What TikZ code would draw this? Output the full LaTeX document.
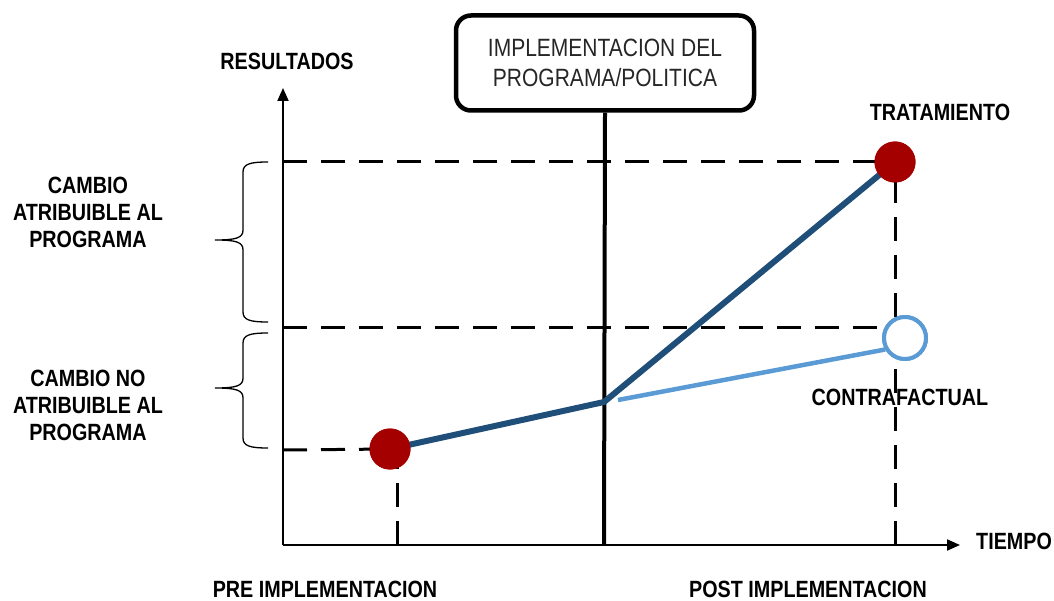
\documentclass[tikz,border=0pt]{standalone}
\usepackage{fontspec}
\setmainfont{Liberation Sans}[FakeStretch=0.84]
\usetikzlibrary{arrows.meta}
\definecolor{darkred}{RGB}{165, 0, 0}
\definecolor{navy}{RGB}{31, 78, 121}
\definecolor{skyline}{RGB}{91, 155, 213}
\tikzset{
    lbl/.style={font=\fontsize{23.5}{27}\selectfont\bfseries, align=center, inner sep=0pt},
    guide/.style={line width=3pt, dash pattern=on 24pt off 14pt},
    redpt/.style={circle, fill=darkred, minimum size=41pt, inner sep=0pt},
    cfpt/.style={circle, draw=skyline, line width=4pt, fill=white, minimum size=42pt, inner sep=0pt},
    llave/.style={line width=1.3pt},
}
% llave: y arriba, y centro, y abajo
\newcommand{\llave}[3]{%
    \draw[llave] (268,#1) .. controls (250,#1) and (243,#1+2) .. (243,#1+10)
        -- (243,#2-10) .. controls (243,#2-2) and (236,#2) .. (215,#2)
        .. controls (236,#2) and (243,#2+2) .. (243,#2+10)
        -- (243,#3-10) .. controls (243,#3-2) and (250,#3) .. (268,#3);}

\begin{document}
\begin{tikzpicture}[x=1pt, y=-1pt]
    \useasboundingbox (0,0) rectangle (1054,601);

    % ejes
    \coordinate (origin) at (283,545);
    \coordinate (ytop) at (283,88);
    \coordinate (xend) at (960,545);
    \draw[line width=2pt, -{Triangle[length=13pt,width=11pt]}] (origin) -- (ytop);
    \draw[line width=2pt, -{Triangle[length=13pt,width=11pt]}] (origin) -- (xend);

    \node[lbl] (res) at (287,61) {RESULTADOS};
    \node[lbl, anchor=west] (tiempo) at (976,541) {TIEMPO};

    % implementacion
    \node[draw, line width=4.5pt, rounded corners=15pt, minimum width=298pt, minimum height=95pt,
          align=center, font=\fontsize{25}{30}\selectfont, text=black!85] (impl) at (605,63)
          {IMPLEMENTACION DEL\\PROGRAMA/POLITICA};
    \coordinate (implbase) at (604,545);
    \draw[line width=4pt] (impl.south) -- (implbase);

    % puntos
    \node[redpt] (pre) at (390,449) {};
    \node[redpt] (trat) at (895,162) {};
    \node[cfpt] (cf) at (905,338) {};
    \coordinate (mid) at (604,402);
    \coordinate (cfstart) at (618,400);

    % guias
    \coordinate (ya) at (283,162);
    \coordinate (yb) at (283,328);
    \coordinate (yc) at (283,450);
    \coordinate (xa) at (397,545);
    \coordinate (xb) at (895,545);
    \coordinate (cfguide) at (895,328);
    \draw[guide] (ya) -- (trat.center);
    \draw[guide] (yb) -- (cfguide);
    \draw[guide] (yc) -- (pre.center);
    \draw[guide] (xa) -- (397,450);
    \draw[guide] (xb) -- (trat.center);

    % trayectorias
    \draw[skyline, line width=4.5pt] (cfstart) -- (cf.210);
    \draw[navy, line width=6pt] (pre.center) -- (mid) -- (trat.center);
    \node[redpt] at (pre) {};
    \node[redpt] at (trat) {};
    \node[cfpt] at (cf) {};

    % llaves
    \llave{162}{240}{322}
    \llave{333}{388}{448}

    \node[lbl] (attr) at (88,212) {CAMBIO\\ATRIBUIBLE AL\\PROGRAMA};
    \node[lbl] (noattr) at (88,405) {CAMBIO NO\\ATRIBUIBLE AL\\PROGRAMA};
    \node[lbl] (tratlbl) at (940,112) {TRATAMIENTO};
    \node[lbl] (cflbl) at (900,397) {CONTRAFACTUAL};
    \node[lbl] (prelbl) at (325,589) {PRE IMPLEMENTACION};
    \node[lbl] (postlbl) at (808,589) {POST IMPLEMENTACION};

\end{tikzpicture}
\end{document}
